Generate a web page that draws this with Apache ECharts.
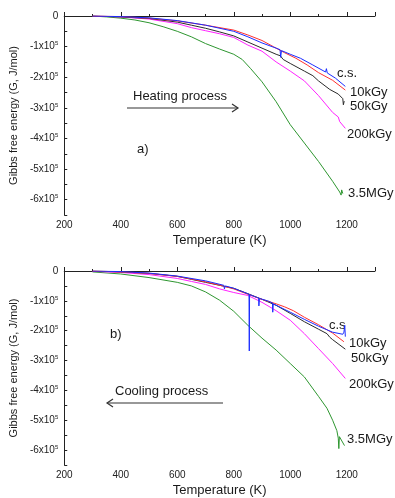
<!DOCTYPE html>
<html><head><meta charset="utf-8">
<script src="https://cdn.jsdelivr.net/npm/echarts@6/dist/echarts.min.js"></script>
<style>html,body{margin:0;padding:0;background:#fff}#c{width:395px;height:498px}</style>
</head><body><div id="c"></div>
<script>
// Values in units of 1e5 J/mol, temperature in K
// (a) Heating process
const heatCS = [[300,0],[400,-0.02],[500,-0.06],[600,-0.15],[700,-0.3],[800,-0.5],[850,-0.68],[900,-0.88],[950,-1.05],[964,-1.1],[966,-1.35],[969,-1.13],[1000,-1.25],[1036,-1.38],[1080,-1.6],[1125,-1.83],[1128,-1.72],[1131,-1.86],[1160,-2.03],[1195,-2.3]];
const heat10 = [[300,0],[400,-0.02],[500,-0.07],[600,-0.16],[700,-0.3],[800,-0.46],[850,-0.62],[900,-0.8],[940,-1.0],[980,-1.2],[1020,-1.38],[1060,-1.6],[1100,-1.85],[1150,-2.1],[1195,-2.42]];
const heat50 = [[300,0],[400,-0.03],[500,-0.08],[600,-0.2],[650,-0.3],[700,-0.4],[750,-0.52],[800,-0.65],[850,-0.85],[900,-1.05],[950,-1.25],[965,-1.3],[975,-1.42],[1000,-1.55],[1050,-1.8],[1080,-1.95],[1100,-2.12],[1140,-2.4],[1170,-2.55],[1186,-2.7],[1188,-2.9],[1191,-2.78]];
const heat200 = [[300,0],[400,-0.03],[500,-0.1],[600,-0.25],[650,-0.38],[700,-0.48],[750,-0.58],[800,-0.7],[820,-0.8],[850,-0.95],[900,-1.15],[950,-1.5],[1000,-1.8],[1050,-2.12],[1100,-2.6],[1150,-3.15],[1170,-3.3],[1175,-3.45],[1195,-3.67]];
const heat35M = [[300,0],[350,-0.03],[400,-0.07],[450,-0.13],[500,-0.22],[550,-0.35],[600,-0.5],[650,-0.68],[700,-0.9],[750,-1.08],[800,-1.25],[830,-1.42],[860,-1.72],[900,-2.15],[950,-2.8],[1000,-3.55],[1050,-4.15],[1100,-4.75],[1150,-5.4],[1175,-5.75],[1180,-5.85],[1182,-5.68],[1186,-5.8]];
// (b) Cooling process
const coolCS = [[300,0],[400,-0.02],[500,-0.07],[600,-0.17],[700,-0.33],[765,-0.48],[767,-0.6],[770,-0.5],[800,-0.58],[854,-0.78],[855,-2.68],[856,-0.79],[880,-0.88],[888,-0.9],[889,-1.17],[891,-0.92],[920,-1.0],[937,-1.07],[938,-1.38],[940,-1.1],[1000,-1.38],[1050,-1.62],[1100,-1.85],[1150,-2.05],[1186,-2.12],[1190,-2.05],[1193,-1.82],[1195,-2.2]];
const cool10 = [[300,0],[400,-0.03],[500,-0.08],[600,-0.18],[700,-0.36],[760,-0.5],[800,-0.6],[850,-0.78],[900,-0.95],[950,-1.1],[980,-1.2],[1011,-1.33],[1050,-1.55],[1100,-1.8],[1150,-2.08],[1190,-2.37]];
const cool50 = [[300,0],[400,-0.03],[500,-0.08],[600,-0.18],[650,-0.28],[700,-0.38],[800,-0.58],[850,-0.76],[900,-0.95],[950,-1.15],[1000,-1.42],[1050,-1.7],[1100,-1.95],[1130,-2.1],[1140,-2.22],[1150,-2.3],[1195,-2.62]];
const cool200 = [[300,-0.01],[400,-0.05],[500,-0.12],[600,-0.25],[650,-0.35],[700,-0.45],[750,-0.6],[800,-0.72],[850,-0.82],[900,-1.05],[950,-1.33],[1000,-1.65],[1050,-2.1],[1100,-2.6],[1150,-3.1],[1195,-3.6]];
const cool35M = [[300,-0.03],[400,-0.1],[500,-0.22],[600,-0.38],[650,-0.5],[700,-0.7],[750,-0.98],[800,-1.35],[850,-1.82],[900,-2.25],[950,-2.65],[1000,-3.1],[1050,-3.55],[1100,-4.2],[1130,-4.6],[1150,-5.0],[1165,-5.35],[1170,-5.6],[1172,-5.95],[1174,-5.55],[1180,-5.6],[1192,-5.85]];
const xTicks = [200,400,600,800,1000,1200];
const yTicks = [0,-1,-2,-3,-4,-5,-6];
const seriesNames = ['c.s.','10kGy','50kGy','200kGy','3.5MGy'];
const colors = ['#1a2cff','#ff3030','#2a2a2a','#ff22ff','#2e9630'];

const chart = echarts.init(document.getElementById('c'));
const font = 'Liberation Sans, Arial, sans-serif';
function xAxis(gi){
  return {gridIndex:gi,type:'value',min:200,max:1300,interval:200,
    name:'Temperature (K)',nameLocation:'middle',nameGap:19,
    nameTextStyle:{fontFamily:font,fontSize:13,color:'#1a1a1a'},
    axisLine:{lineStyle:{color:'#222',width:1}},
    axisTick:{inside:true,length:4,lineStyle:{color:'#222'}},
    minorTick:{show:true,splitNumber:2,length:2,lineStyle:{color:'#222'}},
    splitLine:{show:false},
    axisLabel:{fontFamily:font,fontSize:10,color:'#222',margin:5,
      formatter:v=>xTicks.indexOf(v)>=0?String(v):''}};
}
function yAxis(gi){
  return {gridIndex:gi,type:'value',min:-6.5,max:0,interval:0.5,
    name:'Gibbs free energy (G, J/mol)',nameLocation:'middle',nameGap:43,
    nameTextStyle:{fontFamily:font,fontSize:11,color:'#1a1a1a'},
    axisLine:{lineStyle:{color:'#222',width:1}},
    axisTick:{inside:true,length:3,lineStyle:{color:'#222'}},
    splitLine:{show:false},
    axisLabel:{fontFamily:font,color:'#222',margin:6,
      formatter:v=>{ if(yTicks.indexOf(v)<0) return ''; return v===0?'{b|0}':'{b|'+v+'x10}{s|5}'; },
      rich:{b:{fontFamily:font,fontSize:10,color:'#222'},s:{fontFamily:font,fontSize:6,color:'#222',verticalAlign:'top',padding:[0,0,6,0]}}}};
}
function line(name,data,ci,xi){
  return {name:name,type:'line',xAxisIndex:xi,yAxisIndex:xi,data:data,showSymbol:false,symbol:'none',
    lineStyle:{color:colors[ci],width:1},itemStyle:{color:colors[ci]},animation:false,z:10-ci};
}
function txt(x,y,s){
  return {type:'text',left:x,top:y,style:{text:s,font:'13px '+font,fill:'#1a1a1a'}};
}
const option = {
  backgroundColor:'#fff',animation:false,
  grid:[{left:61,top:16,width:314,height:199},{left:61,top:271,width:314,height:199}],
  xAxis:[xAxis(0),xAxis(1)],
  yAxis:[yAxis(0),yAxis(1)],
  series:[
    line(seriesNames[4],heat35M,4,0),line(seriesNames[3],heat200,3,0),line(seriesNames[2],heat50,2,0),line(seriesNames[1],heat10,1,0),line(seriesNames[0],heatCS,0,0),
    line(seriesNames[4],cool35M,4,1),line(seriesNames[3],cool200,3,1),line(seriesNames[2],cool50,2,1),line(seriesNames[1],cool10,1,1),line(seriesNames[0],coolCS,0,1)
  ],
  graphic:[
    txt(337,67,'c.s.'),
    txt(350,86,'10kGy'),
    txt(350,100,'50kGy'),
    txt(347,128,'200kGy'),
    txt(348,187,'3.5MGy'),
    txt(133,90,'Heating process'),
    {type:'line',shape:{x1:127,y1:108,x2:238,y2:108},style:{stroke:'#333',lineWidth:1.2}},
    {type:'polyline',shape:{points:[[232,104],[238,108],[232,112]]},style:{stroke:'#333',lineWidth:1.2,fill:null}},
    txt(137,143,'a)'),
    txt(329,319,'c.s'),
    txt(349,337,'10kGy'),
    txt(351,352,'50kGy'),
    txt(349,378,'200kGy'),
    txt(347,433,'3.5MGy'),
    txt(115,385,'Cooling process'),
    {type:'line',shape:{x1:107,y1:403,x2:223,y2:403},style:{stroke:'#333',lineWidth:1.2}},
    {type:'polyline',shape:{points:[[113,399],[107,403],[113,407]]},style:{stroke:'#333',lineWidth:1.2,fill:null}},
    txt(110,328,'b)')
  ]
};
chart.setOption(option);
</script></body></html>
